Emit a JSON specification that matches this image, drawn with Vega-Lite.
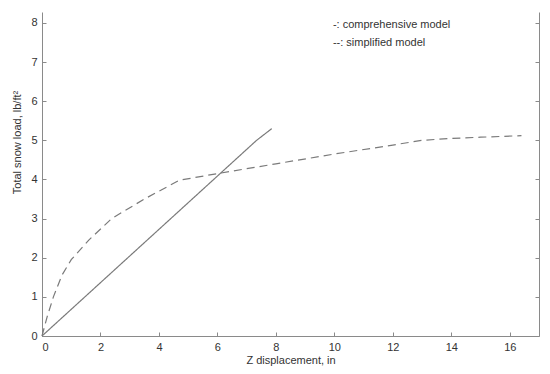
{
  "$schema": "https://vega.github.io/schema/vega-lite/v6.json",
  "width": 497,
  "height": 324,
  "autosize": "none",
  "padding": {"left": 42, "top": 12, "right": 11, "bottom": 38},
  "background": "white",
  "config": {
    "view": {"stroke": null},
    "font": "Liberation Sans",
    "axis": {
      "grid": false,
      "domainColor": "#8a8a8a",
      "tickColor": "#8a8a8a",
      "labelColor": "#333333",
      "titleColor": "#333333",
      "labelFont": "Liberation Sans",
      "titleFont": "Liberation Sans",
      "labelFontSize": 11,
      "titleFontSize": 11,
      "titleFontWeight": "normal"
    }
  },
  "datasets": {
    "curves": [
      {"model": "comprehensive", "x": 0, "y": 0},
      {"model": "comprehensive", "x": 7.34, "y": 5.0},
      {"model": "comprehensive", "x": 7.86, "y": 5.3},
      {"model": "simplified", "x": 0, "y": 0},
      {"model": "simplified", "x": 0.18, "y": 0.5},
      {"model": "simplified", "x": 0.39, "y": 1.0},
      {"model": "simplified", "x": 0.68, "y": 1.55},
      {"model": "simplified", "x": 1.0, "y": 1.95},
      {"model": "simplified", "x": 1.6, "y": 2.45},
      {"model": "simplified", "x": 2.38, "y": 3.0},
      {"model": "simplified", "x": 3.5, "y": 3.5},
      {"model": "simplified", "x": 4.7, "y": 3.98},
      {"model": "simplified", "x": 6.0, "y": 4.15},
      {"model": "simplified", "x": 8.0, "y": 4.4},
      {"model": "simplified", "x": 10.0, "y": 4.65},
      {"model": "simplified", "x": 12.0, "y": 4.88},
      {"model": "simplified", "x": 13.0, "y": 5.0},
      {"model": "simplified", "x": 14.0, "y": 5.05},
      {"model": "simplified", "x": 15.0, "y": 5.08},
      {"model": "simplified", "x": 16.4, "y": 5.12}
    ],
    "notes": [
      {"x": 9.95, "y": 7.96, "label": "-: comprehensive model"},
      {"x": 9.95, "y": 7.48, "label": "--: simplified model"}
    ]
  },
  "layer": [
    {
      "data": {"name": "curves"},
      "mark": {"type": "line", "strokeWidth": 1.2, "color": "#7a7a7a"},
      "encoding": {
        "x": {
          "field": "x", "type": "quantitative",
          "scale": {"domain": [0, 17], "nice": false, "zero": false},
          "axis": {"values": [0, 2, 4, 6, 8, 10, 12, 14, 16], "tickSize": -4, "labelPadding": 9, "title": "Z displacement, in", "titlePadding": 2, "domain": true}
        },
        "y": {
          "field": "y", "type": "quantitative",
          "scale": {"domain": [0, 8.28], "nice": false, "zero": false},
          "axis": {"values": [0, 1, 2, 3, 4, 5, 6, 7, 8], "tickSize": -4, "labelPadding": 9, "title": "Total snow load, lb/ft²", "titleX": -20, "titleY": 130, "titleAnchor": "middle", "domain": true}
        },
        "detail": {"field": "model"},
        "strokeDash": {
          "field": "model", "type": "nominal",
          "scale": {"domain": ["comprehensive", "simplified"], "range": [[1, 0], [8, 5]]},
          "legend": null
        }
      }
    },
    {
      "data": {"name": "curves"},
      "mark": {"type": "point", "opacity": 0},
      "encoding": {
        "x": {"field": "x", "type": "quantitative"},
        "y": {
          "field": "y", "type": "quantitative",
          "axis": {"orient": "right", "values": [0, 1, 2, 3, 4, 5, 6, 7, 8], "labels": false, "tickSize": -4, "title": null, "domain": true}
        }
      }
    },
    {
      "data": {"name": "notes"},
      "mark": {"type": "text", "align": "left", "baseline": "middle", "fontSize": 11, "color": "#333333", "font": "Liberation Sans"},
      "encoding": {
        "x": {"field": "x", "type": "quantitative"},
        "y": {"field": "y", "type": "quantitative", "axis": null},
        "text": {"field": "label"}
      }
    }
  ],
  "resolve": {"axis": {"y": "independent"}}
}
